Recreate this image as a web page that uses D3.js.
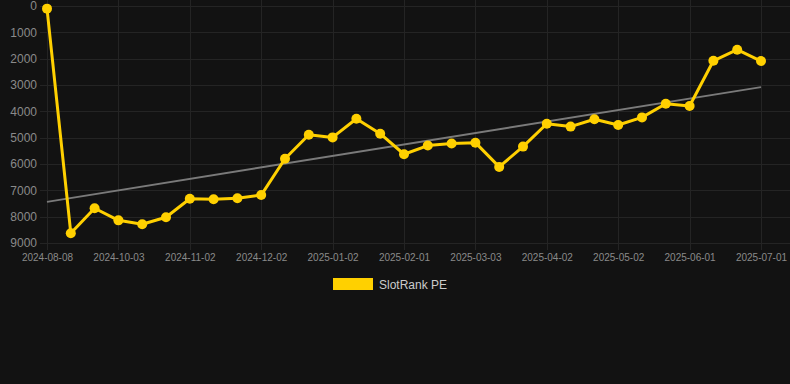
<!DOCTYPE html>
<html>
<head>
<meta charset="utf-8">
<script src="https://cdn.jsdelivr.net/npm/d3@7"></script>
<style>
  html, body { margin: 0; padding: 0; background: #121212; }
  svg { display: block; }
</style>
</head>
<body>
<svg id="chart" width="790" height="384"></svg>
<script>
const categories = [
  "2024-08-08", "2024-08-27", "2024-09-15", "2024-10-03", "2024-10-13", "2024-10-23",
  "2024-11-02", "2024-11-12", "2024-11-22", "2024-12-02", "2024-12-12", "2024-12-22",
  "2025-01-02", "2025-01-12", "2025-01-22", "2025-02-01", "2025-02-11", "2025-02-21",
  "2025-03-03", "2025-03-13", "2025-03-23", "2025-04-02", "2025-04-12", "2025-04-22",
  "2025-05-02", "2025-05-12", "2025-05-22", "2025-06-01", "2025-06-11", "2025-06-21",
  "2025-07-01"
];
const seriesValues = [
  100, 8630, 7680, 8140, 8290, 8020,
  7320, 7340, 7300, 7180, 5800, 4890,
  4990, 4280, 4850, 5630, 5300, 5220,
  5190, 6110, 5340, 4470, 4580, 4300,
  4520, 4230, 3710, 3800, 2080, 1660,
  2090
];
const yTicks = [0, 1000, 2000, 3000, 4000, 5000, 6000, 7000, 8000, 9000];
const xTickLabels = [
  "2024-08-08", "2024-10-03", "2024-11-02", "2024-12-02", "2025-01-02", "2025-02-01",
  "2025-03-03", "2025-04-02", "2025-05-02", "2025-06-01", "2025-07-01"
];
const seriesName = "SlotRank PE";

(function () {
const svg = d3.select("#chart");
const W = 790;
const plotLeft = 47, plotRight = 761, plotTop = 6, plotBottom = 243;

const x = d3.scalePoint().domain(categories).range([plotLeft, plotRight]);
const y = d3.scaleLinear().domain([0, 9000]).range([plotTop, plotBottom]);

const gridColor = "#242424";
const font = "Arial, 'Liberation Sans', sans-serif";

// horizontal grid
svg.append("g").selectAll("line").data(yTicks).join("line")
  .attr("x1", 40).attr("x2", W)
  .attr("y1", d => Math.round(y(d)) + 0.5).attr("y2", d => Math.round(y(d)) + 0.5)
  .attr("stroke", gridColor).attr("stroke-width", 1);

// vertical grid
svg.append("g").selectAll("line").data(xTickLabels).join("line")
  .attr("x1", d => Math.round(x(d)) + 0.5).attr("x2", d => Math.round(x(d)) + 0.5)
  .attr("y1", 0).attr("y2", 250)
  .attr("stroke", gridColor).attr("stroke-width", 1);

// y axis labels
const yAxis = d3.axisLeft(y).tickValues(yTicks).tickSize(0).tickPadding(0).tickFormat(d3.format("d"));
const gy = svg.append("g").attr("transform", "translate(37,0)").call(yAxis);
gy.select(".domain").remove();
gy.selectAll("text").attr("fill", "#8a8a8a").style("font-family", font).style("font-size", "12px");

// x axis labels
const xAxis = d3.axisBottom(x).tickValues(xTickLabels).tickSize(0).tickPadding(0);
const gx = svg.append("g").attr("transform", "translate(0,254)").call(xAxis);
gx.select(".domain").remove();
gx.selectAll("text").attr("fill", "#8a8a8a").style("font-family", font).style("font-size", "10px");

// trend line (least squares regression over the series)
const n = seriesValues.length;
const idx = d3.range(n);
const mx = d3.mean(idx), my = d3.mean(seriesValues);
const slope = d3.sum(idx, i => (i - mx) * (seriesValues[i] - my)) / d3.sum(idx, i => (i - mx) ** 2);
const intercept = my - slope * mx;
svg.append("line")
  .attr("x1", x(categories[0])).attr("y1", y(intercept))
  .attr("x2", x(categories[n - 1])).attr("y2", y(intercept + slope * (n - 1)))
  .attr("stroke", "#7a7a7a").attr("stroke-width", 2);

// series line
const lineGen = d3.line().x((d, i) => x(categories[i])).y(d => y(d));
svg.append("path").datum(seriesValues)
  .attr("d", lineGen).attr("fill", "none")
  .attr("stroke", "#FFD000").attr("stroke-width", 3).attr("stroke-linejoin", "round");

svg.append("g").selectAll("circle").data(seriesValues).join("circle")
  .attr("cx", (d, i) => x(categories[i])).attr("cy", d => y(d))
  .attr("r", 5).attr("fill", "#FFD000");

// legend
const lg = svg.append("g");
lg.append("rect").attr("x", 333).attr("y", 278).attr("width", 40).attr("height", 12).attr("fill", "#FFD000");
lg.append("text").attr("x", 379).attr("y", 288.5).text(seriesName)
  .attr("fill", "#cccccc").style("font-family", font).style("font-size", "12px");
})();
</script>
</body>
</html>
